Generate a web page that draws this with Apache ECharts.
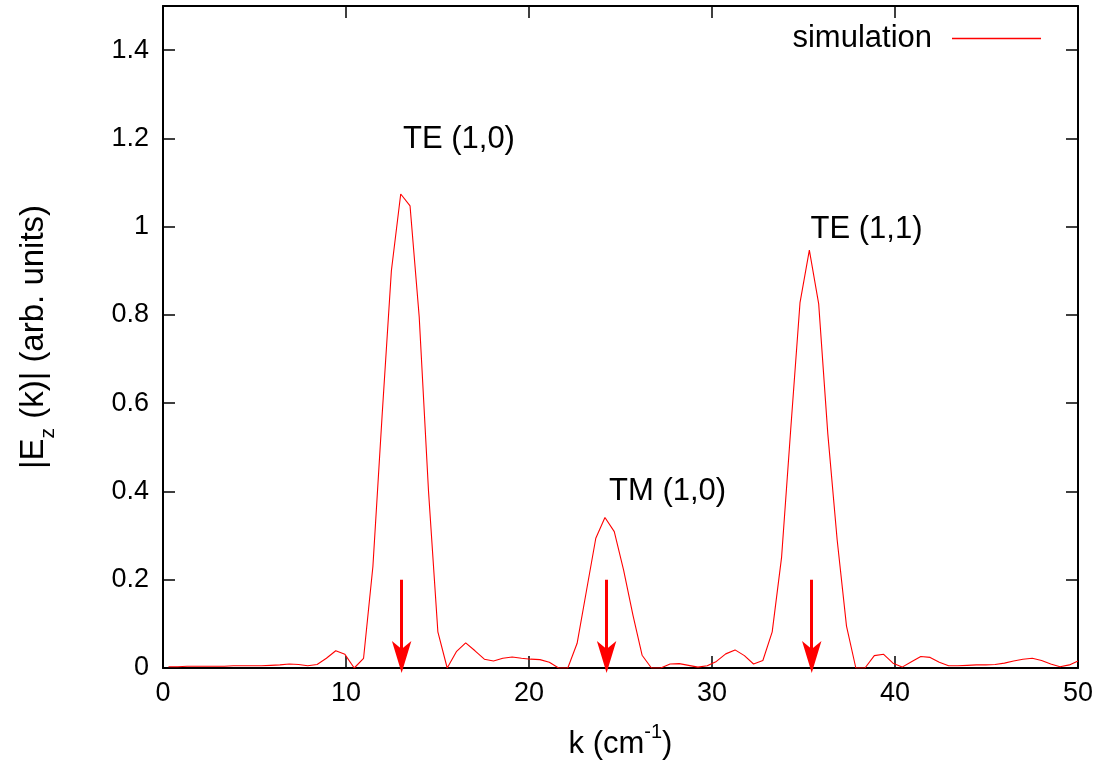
<!DOCTYPE html>
<html>
<head>
<meta charset="utf-8">
<script src="https://cdn.jsdelivr.net/npm/echarts@6/dist/echarts.min.js"></script>
<style>
html,body{margin:0;padding:0;background:#fff;}
#chart{width:1115px;height:774px;}
</style>
</head>
<body>
<div id="chart"></div>
<script>
// wavenumber samples (cm^-1)
var kVals = [0.30,0.81,1.32,1.82,2.33,2.84,3.35,3.85,4.36,4.87,5.38,5.88,6.39,6.90,7.41,7.91,8.42,8.93,9.44,9.94,
  10.45,10.96,11.47,11.97,12.48,12.99,13.50,14.00,14.51,15.02,15.53,16.03,16.54,17.05,17.56,18.06,18.57,19.08,19.59,20.09,
  20.60,21.11,21.62,22.12,22.63,23.14,23.65,24.15,24.66,25.17,25.68,26.18,26.69,27.20,27.71,28.21,28.72,29.23,29.74,30.24,
  30.75,31.26,31.77,32.27,32.78,33.29,33.80,34.30,34.81,35.32,35.83,36.33,36.84,37.35,37.86,38.36,38.87,39.38,39.89,40.39,
  40.90,41.41,41.92,42.42,42.93,43.44,43.95,44.45,44.96,45.47,45.98,46.48,46.99,47.50,48.01,48.51,49.02,49.53,50.00];
// |Ez(k)| simulation values
var eVals = [0.003,0.003,0.004,0.004,0.004,0.004,0.004,0.005,0.005,0.005,0.005,0.006,0.007,0.009,0.008,0.005,0.008,0.022,0.039,0.031,
  0.000,0.022,0.230,0.570,0.900,1.074,1.047,0.796,0.400,0.082,0.000,0.037,0.057,0.039,0.020,0.016,0.022,0.025,0.022,0.020,
  0.019,0.013,0.000,0.000,0.056,0.175,0.294,0.341,0.309,0.222,0.120,0.029,0.000,0.000,0.009,0.010,0.006,0.002,0.005,0.015,
  0.032,0.041,0.028,0.009,0.017,0.082,0.250,0.540,0.828,0.947,0.825,0.530,0.290,0.095,0.000,0.000,0.028,0.031,0.011,0.002,
  0.014,0.026,0.024,0.013,0.005,0.005,0.006,0.007,0.007,0.008,0.011,0.016,0.020,0.022,0.017,0.009,0.003,0.007,0.016];
// predicted mode positions (arrows from arrowTop down to arrowBottom)
var arrowK = [13.04, 24.24, 35.45];
var arrowTop = 0.2;
var arrowBottom = 0.025;
// mode annotations
var modeNames = ['TE (1,0)', 'TM (1,0)', 'TE (1,1)'];
var modeK = [16.2, 27.6, 38.47];
var modeE = [1.196, 0.399, 0.992];
var xTicks = [0, 10, 20, 30, 40, 50];
var yTicks = [0, 0.2, 0.4, 0.6, 0.8, 1, 1.2, 1.4];

var FONT = 'Liberation Sans';
var FS = 27;   // tick labels
var FT = 31;   // titles, legend, annotations
var chart = echarts.init(document.getElementById('chart'));

var lineData = kVals.map(function (k, i) { return [k, eVals[i]]; });
var labelData = modeNames.map(function (n, i) { return [modeK[i], modeE[i], n]; });

function axisCommon() {
  return {
    axisLine: { show: true, onZero: false, lineStyle: { color: '#000', width: 2 } },
    axisTick: { show: true, inside: true, length: 12, lineStyle: { color: '#000', width: 1.5 } },
    splitLine: { show: false }
  };
}

var arrowHead = 'path://M8.5,0 L17,28 L8.5,21 L0,28 Z M-5.5,0 L-5.49,0 L-5.5,0.01 Z M22.5,0 L22.51,0 L22.5,0.01 Z';

var option = {
  animation: false,
  backgroundColor: '#fff',
  textStyle: { fontFamily: FONT },
  grid: { left: 163, right: 37, top: 6, bottom: 106, containLabel: false },
  legend: {
    data: [{ name: 'simulation', icon: 'rect' }],
    right: 69, top: 18,
    align: 'right',
    itemWidth: 89, itemHeight: 1.5, itemGap: 10,
    itemStyle: { color: '#ff0000' },
    textStyle: { fontFamily: FONT, fontSize: FT, color: '#000', padding: [0, 15, 0, 0] }
  },
  xAxis: [
    Object.assign(axisCommon(), {
      type: 'value', min: 0, max: 50, interval: 10, position: 'bottom',
      axisLabel: { show: true, color: '#000', fontFamily: FONT, fontSize: FS, margin: 12,
        formatter: function (v) { return xTicks.indexOf(v) >= 0 ? String(v) : ''; } },
      name: '{a|k (cm}{s|-1}{a|)}', nameLocation: 'middle', nameGap: 54,
      nameTextStyle: { rich: {
        a: { fontFamily: FONT, fontSize: FT, color: '#000', lineHeight: 38, verticalAlign: 'bottom' },
        s: { fontFamily: FONT, fontSize: 20, color: '#000', lineHeight: 38, verticalAlign: 'top' } } }
    }),
    Object.assign(axisCommon(), {
      type: 'value', min: 0, max: 50, interval: 10, position: 'top',
      axisLabel: { show: false }
    })
  ],
  yAxis: [
    Object.assign(axisCommon(), {
      type: 'value', min: 0, max: 1.5, interval: 0.2, position: 'left',
      axisLabel: { show: true, showMaxLabel: false, color: '#000', fontFamily: FONT, fontSize: FS, margin: 14,
        formatter: function (v) {
          for (var i = 0; i < yTicks.length; i++) if (Math.abs(yTicks[i] - v) < 1e-6) return String(yTicks[i]);
          return '';
        } },
      name: '{a||E}{s|z}{a| (k)| (arb. units)}', nameLocation: 'middle', nameGap: 104, nameRotate: 90,
      nameTextStyle: { rich: {
        a: { fontFamily: FONT, fontSize: 33, color: '#000', lineHeight: 42, verticalAlign: 'top' },
        s: { fontFamily: FONT, fontSize: 21, color: '#000', lineHeight: 42, verticalAlign: 'bottom' } } }
    }),
    Object.assign(axisCommon(), {
      type: 'value', min: 0, max: 1.5, interval: 0.2, position: 'right',
      axisLabel: { show: false }
    })
  ],
  series: [
    {
      name: 'simulation', type: 'line', data: lineData, xAxisIndex: 0, yAxisIndex: 0,
      symbol: 'none', showSymbol: false,
      lineStyle: { color: '#ff0000', width: 1.1 },
      itemStyle: { color: '#ff0000' },
      clip: true,
      markLine: {
        silent: true,
        symbol: ['none', arrowHead],
        symbolSize: 32,
        label: { show: false },
        lineStyle: { color: '#ff0000', width: 3, type: 'solid' },
        itemStyle: { color: '#ff0000' },
        emphasis: { disabled: true },
        data: arrowK.map(function (k) { return [{ coord: [k, arrowTop] }, { coord: [k, arrowBottom] }]; })
      }
    },
    {
      name: 'modes', type: 'scatter', data: labelData, symbolSize: 1, silent: true,
      itemStyle: { opacity: 0 },
      label: { show: true, position: [0, 0], align: 'center', verticalAlign: 'middle',
        color: '#000', opacity: 1, fontFamily: FONT, fontSize: FT,
        textBorderWidth: 0,
        formatter: function (p) { return p.data[2]; } }
    }
  ]
};
chart.setOption(option);
</script>
</body>
</html>
